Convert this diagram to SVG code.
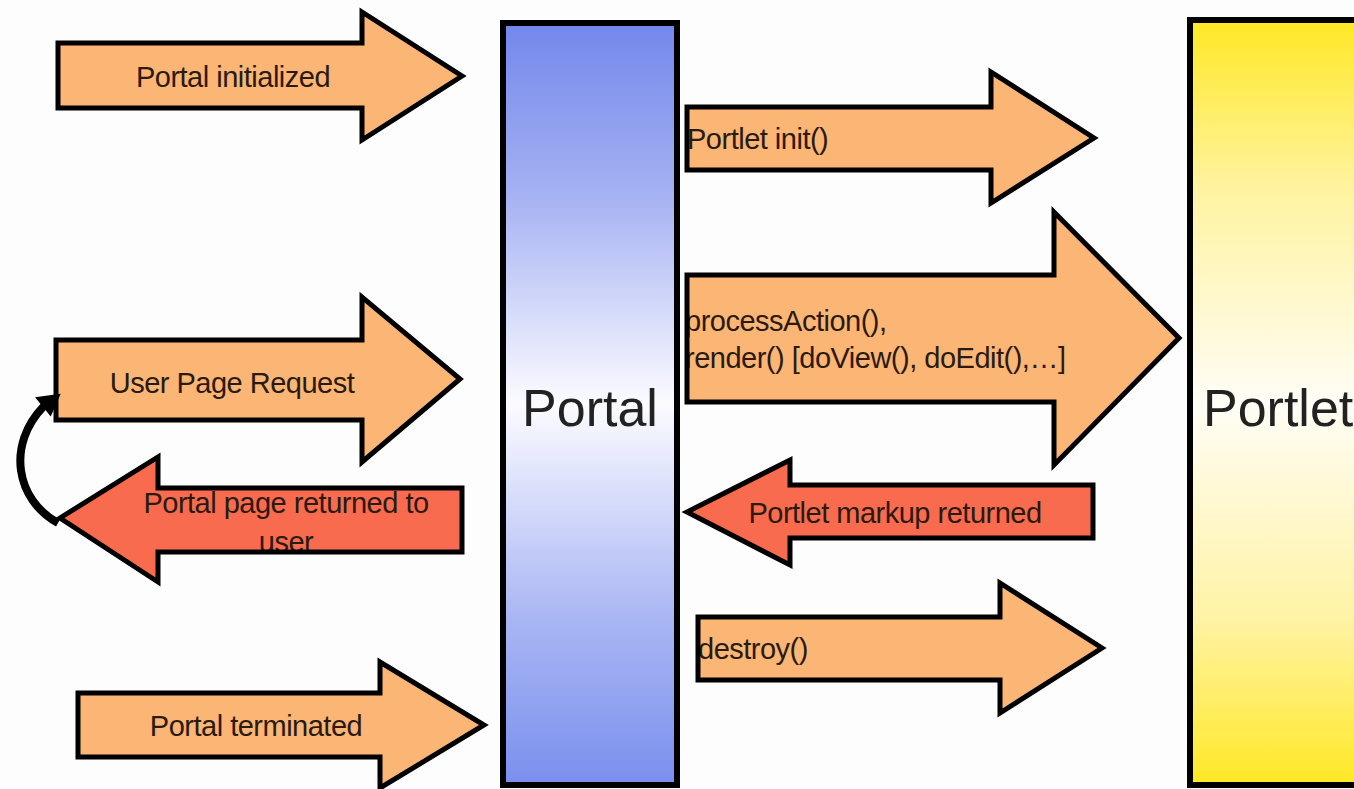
<svg xmlns="http://www.w3.org/2000/svg" width="1354" height="789" viewBox="0 0 1354 789">
<defs>
<linearGradient id="gPortal" x1="0" y1="0" x2="0" y2="1">
<stop offset="0" stop-color="#7387ec"/>
<stop offset="0.22" stop-color="#a3b0f2"/>
<stop offset="0.5" stop-color="#fbfbff"/>
<stop offset="0.78" stop-color="#a9b6f3"/>
<stop offset="1" stop-color="#7a8fee"/>
</linearGradient>
<linearGradient id="gPortlet" x1="0" y1="0" x2="0" y2="1">
<stop offset="0" stop-color="#ffe825"/>
<stop offset="0.22" stop-color="#fff3a0"/>
<stop offset="0.5" stop-color="#fffdf6"/>
<stop offset="0.78" stop-color="#fff3a6"/>
<stop offset="1" stop-color="#ffe825"/>
</linearGradient>
<style>
.req{fill:#fbb574}
.ret{fill:#f96b4e}
.ol{fill:none;stroke:#000;stroke-width:5;stroke-linejoin:miter}
.lbl{font-family:"Liberation Sans",Arial,sans-serif;font-size:29px;letter-spacing:-0.5px;fill:#2a1a10}
.big{font-family:"Liberation Sans",Arial,sans-serif;font-size:52px;fill:#222}
.box{stroke:#000;stroke-width:6}
</style>
</defs>
<rect width="1354" height="789" fill="#fdfdfd"/>

<g id="portal">
<rect class="box" x="503" y="23" width="174" height="762" fill="url(#gPortal)"/>
<text class="big" x="590" y="426" text-anchor="middle">Portal</text>
</g>

<g id="portlet">
<rect class="box" x="1190" y="20" width="180" height="765" fill="url(#gPortlet)"/>
<text class="big" x="1203" y="426">Portlet</text>
</g>

<g id="connectors">
<g id="portal-initialized">
<polygon class="req" points="58,43 362,43 362,12 462,76 362,140 362,108 58,108"/>
<text class="lbl" x="233" y="87" text-anchor="middle">Portal initialized</text>
<polygon class="ol" points="58,43 362,43 362,12 462,76 362,140 362,108 58,108"/>
</g>
<g id="user-page-request">
<polygon class="req" points="56,340 362,340 362,297 460,379 362,462 362,420 56,420"/>
<text class="lbl" x="232" y="393" text-anchor="middle">User Page Request</text>
<polygon class="ol" points="56,340 362,340 362,297 460,379 362,462 362,420 56,420"/>
</g>
<g id="portal-page-returned">
<polygon class="ret" points="462,488 158,488 158,457 60,518 158,582 158,552 462,552"/>
<text class="lbl" x="286" y="513" text-anchor="middle">Portal page returned to</text>
<text class="lbl" x="286" y="552" text-anchor="middle">user</text>
<polygon class="ol" points="462,488 158,488 158,457 60,518 158,582 158,552 462,552"/>
</g>
<g id="loop-back">
<path d="M58,523 C16,500 6,445 44,406" fill="none" stroke="#000" stroke-width="8"/>
<polygon points="59,395 50.5,414.5 37,398" fill="#000" stroke="#000" stroke-width="2"/>
</g>
<g id="portal-terminated">
<polygon class="req" points="78,693 380,693 380,662 484,725 380,788 380,757 78,757"/>
<text class="lbl" x="256" y="736" text-anchor="middle">Portal terminated</text>
<polygon class="ol" points="78,693 380,693 380,662 484,725 380,788 380,757 78,757"/>
</g>
<g id="portlet-init">
<polygon class="req" points="687,107 991,107 991,72 1094,138 991,203 991,170 687,170"/>
<text class="lbl" x="687" y="149">Portlet init()</text>
<polygon class="ol" points="687,107 991,107 991,72 1094,138 991,203 991,170 687,170"/>
</g>
<g id="process-action">
<polygon class="req" points="687,275 1054,275 1054,212 1179,338 1054,465 1054,402 687,402"/>
<text class="lbl" x="685" y="331">processAction(),</text>
<text class="lbl" x="685" y="368">render() [doView(), doEdit(),…]</text>
<polygon class="ol" points="687,275 1054,275 1054,212 1179,338 1054,465 1054,402 687,402"/>
</g>
<g id="portlet-markup-returned">
<polygon class="ret" points="1093,485 790,485 790,460 687,512 790,565 790,538 1093,538"/>
<text class="lbl" x="895" y="523" text-anchor="middle">Portlet markup returned</text>
<polygon class="ol" points="1093,485 790,485 790,460 687,512 790,565 790,538 1093,538"/>
</g>
<g id="destroy">
<polygon class="req" points="698,617 1000,617 1000,583 1102,648 1000,713 1000,680 698,680"/>
<text class="lbl" x="698" y="659">destroy()</text>
<polygon class="ol" points="698,617 1000,617 1000,583 1102,648 1000,713 1000,680 698,680"/>
</g>
</g>
</svg>
